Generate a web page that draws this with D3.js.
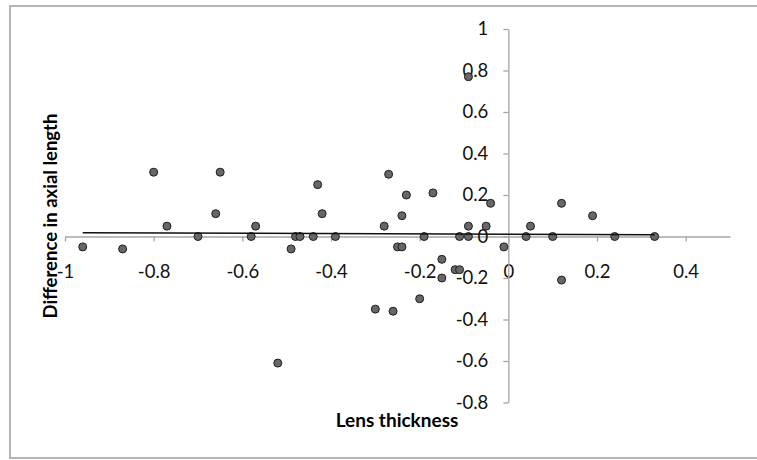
<!DOCTYPE html>
<html>
<head>
<meta charset="utf-8">
<script src="https://cdn.jsdelivr.net/npm/d3@7"></script>
<style>
  body { margin: 0; background: #fff; }
  svg { display: block; }
  .axis path, .axis line { stroke: #a6a6a6; stroke-width: 1.3; }
  .axis text { font-family: Lato, "Open Sans", sans-serif; font-size: 18.5px; fill: #111; }
  .title { font-family: Lato, "Open Sans", sans-serif; font-weight: bold; fill: #000; }
</style>
</head>
<body>
<svg></svg>
<script>
var width = 757;
var height = 460;

// lens thickness (x) and difference in axial length (y)
var lensThickness = [-0.96, -0.87, -0.80, -0.77, -0.70, -0.66, -0.65, -0.58, -0.57, -0.52,
  -0.49, -0.48, -0.47, -0.44, -0.43, -0.42, -0.39, -0.30, -0.28, -0.27,
  -0.26, -0.25, -0.24, -0.24, -0.23, -0.20, -0.19, -0.17, -0.15, -0.15,
  -0.12, -0.11, -0.11, -0.09, -0.09, -0.09, -0.05, -0.04, -0.01, 0.04,
  0.05, 0.10, 0.12, 0.12, 0.19, 0.24, 0.33];
var axialDiff = [-0.05, -0.06, 0.31, 0.05, 0.00, 0.11, 0.31, 0.00, 0.05, -0.61,
  -0.06, 0.00, 0.00, 0.00, 0.25, 0.11, 0.00, -0.35, 0.05, 0.30,
  -0.36, -0.05, -0.05, 0.10, 0.20, -0.30, 0.00, 0.21, -0.11, -0.20,
  -0.16, -0.16, 0.00, 0.00, 0.05, 0.77, 0.05, 0.16, -0.05, 0.00,
  0.05, 0.00, 0.16, -0.21, 0.10, 0.00, 0.00];

var xTicks = [-1, -0.8, -0.6, -0.4, -0.2, 0, 0.2, 0.4];
var yTicks = [-0.8, -0.6, -0.4, -0.2, 0, 0.2, 0.4, 0.6, 0.8, 1];

var svg = d3.select("svg").attr("width", width).attr("height", height);

// outer chart frame (right edge runs off the picture)
svg.append("rect")
  .attr("x", 10).attr("y", 6)
  .attr("width", 770).attr("height", 452)
  .attr("fill", "none")
  .attr("stroke", "#b5b5b5")
  .attr("stroke-width", 2);

var x = d3.scaleLinear().domain([-1, 0.5]).range([65, 730]);
var y = d3.scaleLinear().domain([-0.8, 1]).range([402.5, 29]);

// axes cross at the origin
svg.append("g")
  .attr("class", "axis")
  .attr("transform", "translate(0," + y(0) + ")")
  .call(d3.axisBottom(x).tickValues(xTicks).tickFormat(String)
    .tickSize(5).tickSizeOuter(0).tickPadding(23));

svg.append("g")
  .attr("class", "axis")
  .attr("transform", "translate(" + x(0) + ",0)")
  .call(d3.axisLeft(y).tickValues(yTicks).tickFormat(String)
    .tickSize(5).tickSizeOuter(0).tickPadding(15));

// points
var pts = d3.range(lensThickness.length).map(function (i) {
  return { x: lensThickness[i], y: axialDiff[i] };
});

svg.append("g").selectAll("circle")
  .data(pts)
  .enter().append("circle")
  .attr("cx", function (d) { return x(d.x); })
  .attr("cy", function (d) { return y(d.y); })
  .attr("r", 4)
  .attr("fill", "#676767")
  .attr("stroke", "#1e1e1e")
  .attr("stroke-width", 1);

// linear trendline (least squares)
var mx = d3.mean(lensThickness), my = d3.mean(axialDiff);
var sxy = d3.sum(pts, function (d) { return (d.x - mx) * (d.y - my); });
var sxx = d3.sum(pts, function (d) { return (d.x - mx) * (d.x - mx); });
var slope = sxy / sxx, intercept = my - slope * mx;
var xExt = d3.extent(lensThickness);

svg.append("line")
  .attr("x1", x(xExt[0])).attr("y1", y(intercept + slope * xExt[0]))
  .attr("x2", x(xExt[1])).attr("y2", y(intercept + slope * xExt[1]))
  .attr("stroke", "#111")
  .attr("stroke-width", 1.6);

// axis titles
svg.append("text")
  .attr("class", "title")
  .attr("x", 397).attr("y", 427)
  .attr("text-anchor", "middle")
  .style("font-size", "19px")
  .text("Lens thickness");

svg.append("text")
  .attr("class", "title")
  .attr("transform", "translate(57,216) rotate(-90)")
  .attr("text-anchor", "middle")
  .style("font-size", "18.5px")
  .text("Difference in axial length");
</script>
</body>
</html>
